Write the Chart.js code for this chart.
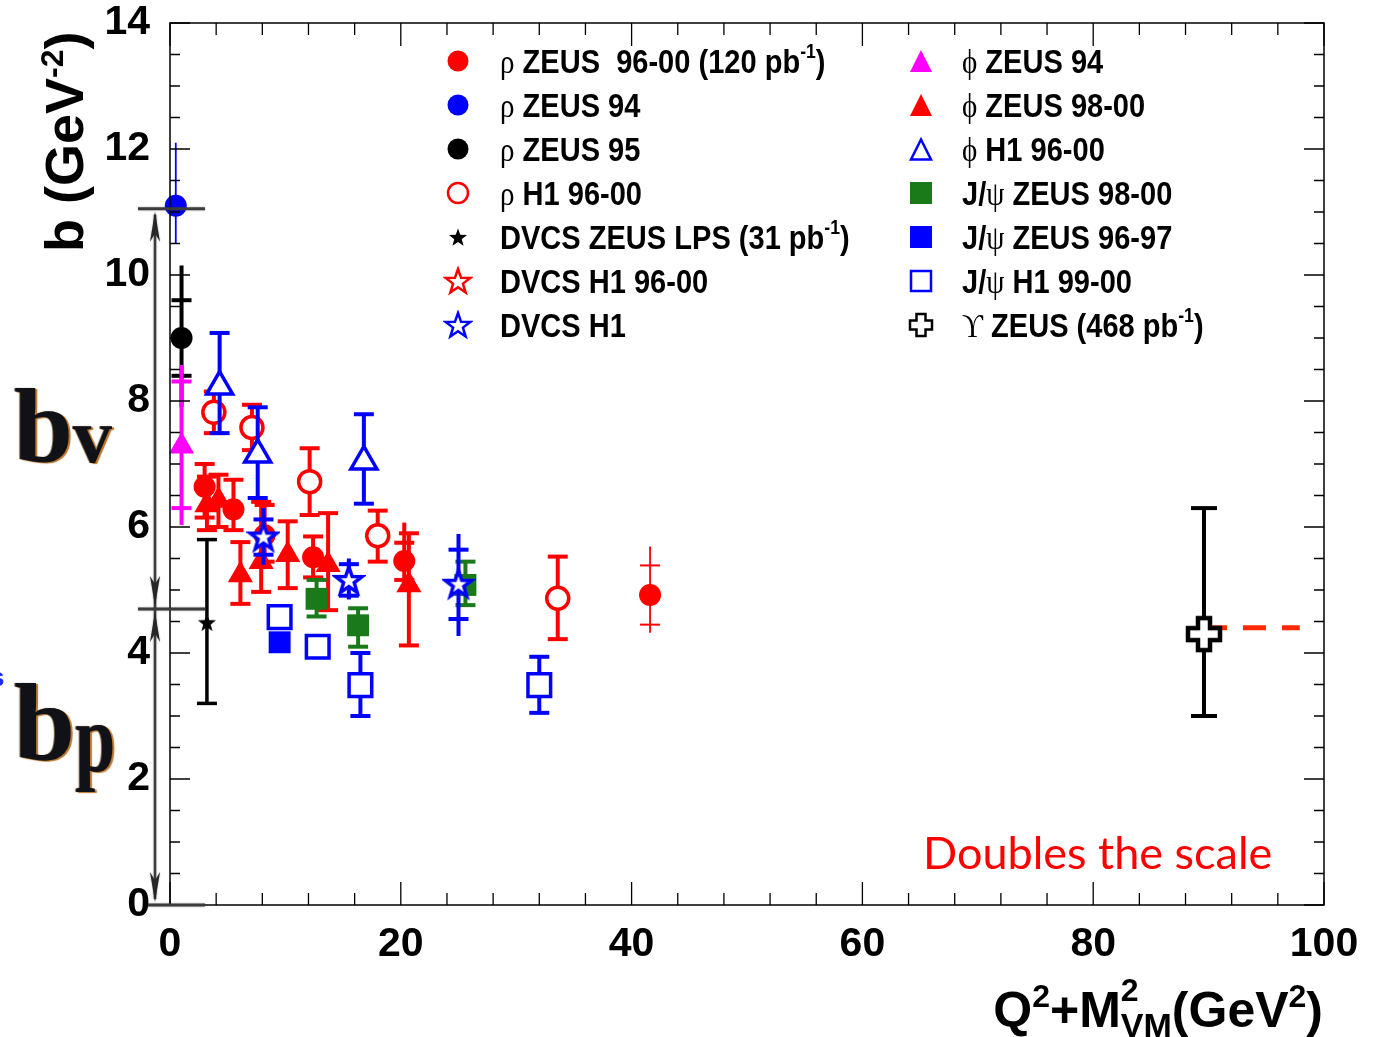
<!DOCTYPE html>
<html>
<head>
<meta charset="utf-8">
<title>Slope b vs Q2+M2</title>
<script src="https://cdn.jsdelivr.net/npm/chart.js@4.4.1/dist/chart.umd.min.js"></script>
<style>
  html, body { margin: 0; padding: 0; background: #fff; }
  #stage { position: relative; width: 1375px; height: 1037px; overflow: hidden; }
  #plot { position: absolute; left: 0; top: 0; }
  .txt { position: absolute; white-space: nowrap; font-family: "Liberation Sans", Arial, sans-serif; font-weight: bold; color: #000; line-height: 1; }
  .leg { font-size: 33px; transform: scaleX(0.88); transform-origin: 0 0; }
  .gk { font-family: "Liberation Serif", "DejaVu Serif", serif; font-weight: normal; }
  .sup { font-size: 20px; position: relative; top: -15px; }
  .mk { position: absolute; }
  .big { position: absolute; font-family: "Liberation Serif", "DejaVu Serif", serif; font-weight: bold; color: #111118; line-height: 1; white-space: nowrap;
         text-shadow: 2px 1px 1px #b8742a, -1px 0 1px #6a5030; }
</style>
</head>
<body>
<div id="stage">
  <canvas id="plot" width="1375" height="1037"></canvas>
  <div id="legend"></div>

  <div class="txt" id="ytitle" style="font-size:54px; left:37px; top:252px; transform-origin:0 0; transform:rotate(-90deg);">b (GeV<span style="font-size:32px; position:relative; top:-20px;">-2</span>)</div>

  <div class="txt" id="xtitle" style="font-size:50px; right:52px; top:985px;">Q<span style="font-size:32px; position:relative; top:-20px;">2</span>+M<span style="font-size:34px; position:relative; top:10px;">VM<span style="position:absolute; left:0; top:-32px; font-size:32px;">2</span></span>(GeV<span style="font-size:32px; position:relative; top:-20px;">2</span>)</div>

  <div class="txt" style="font-family:Lato, 'Open Sans', sans-serif; font-weight:normal; color:#ff0000; font-size:45px; left:923px; top:830px;">Doubles the scale</div>

  <div class="big" style="left:14px; top:374px; font-size:106px;">b<span style="font-size:78px;">v</span></div>
  <div class="big" style="left:14px; top:668px; font-size:110px;">b<span style="font-size:72px; display:inline-block; transform:scaleY(1.35); transform-origin:0 40%;">p</span></div>
  <div class="txt" style="color:#1a2aff; font-size:26px; left:-10px; top:664px;">s</div>
</div>

<script>
// ---- values ----
const xTicks = [0, 20, 40, 60, 80, 100];
const yTicks = [0, 2, 4, 6, 8, 10, 12, 14];

const rhoZeus9600X = [3.0, 5.5, 8.2, 12.4, 20.3, 41.6];
const rhoZeus9600Y = [6.64, 6.28, 5.87, 5.52, 5.46, 4.92];
const rhoZeus9600Lo = [6.15, 5.95, 5.45, 5.2, 5.16, 4.32];
const rhoZeus9600Hi = [7.0, 6.75, 6.35, 5.85, 6.07, 5.69];
const rhoZeus9600CapLo = [6.15, 5.95, 5.45, 5.2, 5.16, 4.45];
const rhoZeus9600CapHi = [7.0, 6.75, 6.35, 5.85, 5.75, 5.39];

const rhoZeus94X = [0.5];
const rhoZeus94Y = [11.1];
const rhoZeus94Lo = [10.5];
const rhoZeus94Hi = [12.1];

const rhoZeus95X = [1.0];
const rhoZeus95Y = [9.0];
const rhoZeus95Lo = [7.9];
const rhoZeus95Hi = [10.15];
const rhoZeus95CapLo = [8.4];
const rhoZeus95CapHi = [9.6];

const rhoH1X = [3.8, 7.1, 12.1, 18.0, 33.6];
const rhoH1Y = [7.82, 7.58, 6.72, 5.86, 4.87];
const rhoH1Lo = [7.49, 7.22, 6.19, 5.45, 4.22];
const rhoH1Hi = [8.15, 7.94, 7.25, 6.26, 5.53];

const dvcsZeusX = [3.2];
const dvcsZeusY = [4.48];
const dvcsZeusLo = [3.2];
const dvcsZeusHi = [5.8];

const dvcsH19600X = [];
const dvcsH19600Y = [];

const dvcsH1X = [8.1, 15.5, 25.0];
const dvcsH1Y = [5.85, 5.16, 5.10];
const dvcsH1Lo = [5.4, 4.85, 4.27];
const dvcsH1Hi = [6.3, 5.5, 5.89];
const dvcsH1CapLo = [5.56, 4.91, 4.54];
const dvcsH1CapHi = [6.12, 5.41, 5.64];

const phiZeus94X = [1.0];
const phiZeus94Y = [7.28];
const phiZeus94Lo = [6.03];
const phiZeus94Hi = [8.57];
const phiZeus94CapLo = [6.30];
const phiZeus94CapHi = [8.31];

const phiZeus9800X = [3.2, 4.2, 6.1, 7.9, 10.2, 13.7, 20.7];
const phiZeus9800Y = [6.35, 6.42, 5.24, 5.45, 5.56, 5.40, 5.08];
const phiZeus9800Lo = [5.95, 6.0, 4.78, 4.97, 5.03, 4.68, 4.12];
const phiZeus9800Hi = [6.8, 6.83, 5.76, 6.4, 6.09, 6.22, 5.9];

const phiH1X = [4.3, 7.6, 16.8];
const phiH1Y = [8.23, 7.15, 7.04];
const phiH1Lo = [7.49, 6.46, 6.37];
const phiH1Hi = [9.08, 7.9, 7.79];

const jpsiZeus9800X = [12.7, 16.3, 25.6];
const jpsiZeus9800Y = [4.86, 4.44, 5.08];
const jpsiZeus9800Lo = [4.58, 4.10, 4.76];
const jpsiZeus9800Hi = [5.16, 4.71, 5.45];

const jpsiZeus9697X = [9.5];
const jpsiZeus9697Y = [4.17];
const jpsiZeus9697Lo = [4.05];
const jpsiZeus9697Hi = [4.3];

const jpsiH1X = [9.5, 12.8, 16.5, 32.0];
const jpsiH1Y = [4.57, 4.10, 3.49, 3.49];
const jpsiH1Lo = [4.42, 3.98, 3.0, 3.05];
const jpsiH1Hi = [4.72, 4.22, 4.0, 3.94];

const upsZeusX = [89.6];
const upsZeusY = [4.30];
const upsZeusLo = [3.0];
const upsZeusHi = [6.30];

const dashX = [89.6, 97.9];
const dashY = [4.40, 4.40];

const bvLevel = 11.05;
const bpLevel = 4.70;

const legendLeft = [
  ['dot', '#ff0000', '<span class="gk">ρ</span> ZEUS&nbsp;&nbsp;96-00 (120 pb<span class="sup">-1</span>)'],
  ['dot', '#0000ff', '<span class="gk">ρ</span> ZEUS 94'],
  ['dot', '#000000', '<span class="gk">ρ</span> ZEUS 95'],
  ['ring', '#ff0000', '<span class="gk">ρ</span> H1 96-00'],
  ['star', '#000000', 'DVCS ZEUS LPS (31 pb<span class="sup">-1</span>)'],
  ['starOpen', '#ff0000', 'DVCS H1 96-00'],
  ['starOpen', '#0000ff', 'DVCS H1']
];
const legendRight = [
  ['tri', '#ff00ff', '<span class="gk">ϕ</span> ZEUS 94'],
  ['tri', '#ff0000', '<span class="gk">ϕ</span> ZEUS 98-00'],
  ['triOpen', '#0000ff', '<span class="gk">ϕ</span> H1 96-00'],
  ['sq', '#1a7a1a', 'J/<span class="gk">ψ</span> ZEUS 98-00'],
  ['sq', '#0000ff', 'J/<span class="gk">ψ</span> ZEUS 96-97'],
  ['sqOpen', '#0000ff', 'J/<span class="gk">ψ</span> H1 99-00'],
  ['plusOpen', '#000000', '<span class="gk">ϒ</span> ZEUS (468 pb<span class="sup">-1</span>)']
];

// ---- helpers ----
function points(xs, ys) {
  return xs.map((x, i) => ({ x, y: ys[i] }));
}

function starPath(cx, cy, R, r) {
  const pts = [];
  for (let k = 0; k < 10; k++) {
    const rad = k % 2 === 0 ? R : r;
    const ang = -Math.PI / 2 + k * Math.PI / 5;
    pts.push([cx + rad * Math.cos(ang), cy + rad * Math.sin(ang)]);
  }
  return pts;
}

function plusPath(cx, cy, a, e) {
  return [[-a, -e], [a, -e], [a, -a], [e, -a], [e, a], [a, a], [a, e], [-a, e], [-a, a], [-e, a], [-e, -a], [-a, -a]]
    .map(([px, py]) => [cx + px, cy + py]);
}

function polyCanvas(size, pts, fill, stroke, lw) {
  const c = document.createElement('canvas');
  c.width = size;
  c.height = size;
  const g = c.getContext('2d');
  g.beginPath();
  pts.forEach(([px, py], i) => (i ? g.lineTo(px, py) : g.moveTo(px, py)));
  g.closePath();
  if (fill) { g.fillStyle = fill; g.fill(); }
  if (stroke) { g.strokeStyle = stroke; g.lineWidth = lw; g.lineJoin = 'miter'; g.stroke(); }
  return c;
}

const blackStar = polyCanvas(22, starPath(11, 11.5, 9.5, 3.9), '#000', null, 0);
const blueStar = polyCanvas(34, starPath(17, 18, 14, 5.6), '#fff', '#0000ff', 3.5);
const redStar = polyCanvas(34, starPath(17, 18, 14, 5.6), '#fff', '#ff0000', 3.5);
const openPlus = polyCanvas(42, plusPath(21, 21, 6, 16), '#fff', '#000', 4.5);

function markerSvg(kind, color) {
  let body = '';
  if (kind === 'dot') body = `<circle cx="15" cy="15" r="10.5" fill="${color}"/>`;
  if (kind === 'ring') body = `<circle cx="15" cy="15" r="10" fill="none" stroke="${color}" stroke-width="2.5"/>`;
  if (kind === 'tri') body = `<polygon points="4,26 26,26 15,4" fill="${color}"/>`;
  if (kind === 'triOpen') body = `<polygon points="5,25.5 25,25.5 15,5.5" fill="none" stroke="${color}" stroke-width="2.5"/>`;
  if (kind === 'sq') body = `<rect x="4" y="4" width="22" height="22" fill="${color}"/>`;
  if (kind === 'sqOpen') body = `<rect x="5" y="5" width="20" height="20" fill="none" stroke="${color}" stroke-width="2.5"/>`;
  if (kind === 'star') body = `<polygon points="${starPath(15, 16, 9.5, 3.9).map(p => p.join(',')).join(' ')}" fill="${color}"/>`;
  if (kind === 'starOpen') body = `<polygon points="${starPath(15, 16, 13, 5.2).map(p => p.join(',')).join(' ')}" fill="none" stroke="${color}" stroke-width="2.5"/>`;
  if (kind === 'plusOpen') body = `<polygon points="${plusPath(15, 15, 4.5, 11).map(p => p.join(',')).join(' ')}" fill="none" stroke="${color}" stroke-width="2.5"/>`;
  return `<svg width="30" height="30" viewBox="0 0 30 30">${body}</svg>`;
}

function buildLegend() {
  const box = document.getElementById('legend');
  const baselines = [73, 117, 161, 205, 249, 293, 337];
  const cols = [[legendLeft, 458, 500], [legendRight, 921, 962]];
  let html = '';
  cols.forEach(([rows, mx, tx]) => {
    rows.forEach(([kind, color, label], i) => {
      const b = baselines[i];
      html += `<div class="mk" style="left:${mx - 15}px; top:${b - 27}px;">${markerSvg(kind, color)}</div>`;
      html += `<div class="txt leg" style="left:${tx}px; top:${b - 28}px;">${label}</div>`;
    });
  });
  box.innerHTML = html;
}

// error bars drawn through the chart's own y scale, just before each dataset's markers
const errorBarPlugin = {
  id: 'errorBars',
  beforeDatasetDraw(chart, args) {
    const ds = chart.data.datasets[args.index];
    if (!ds.errLo) return;
    const y = chart.scales.y;
    const ctx = chart.ctx;
    ctx.save();
    ctx.strokeStyle = ds.errColor;
    ctx.lineCap = 'butt';
    args.meta.data.forEach((pt, i) => {
      const lw = Array.isArray(ds.errWidth) ? ds.errWidth[i] : ds.errWidth;
      const half = ds.capHalf || 0;
      ctx.lineWidth = lw;
      ctx.beginPath();
      ctx.moveTo(pt.x, y.getPixelForValue(ds.errLo[i]));
      ctx.lineTo(pt.x, y.getPixelForValue(ds.errHi[i]));
      ctx.stroke();
      if (half > 0) {
        const caps = [(ds.capLo || ds.errLo)[i], (ds.capHi || ds.errHi)[i]];
        ctx.lineWidth = Math.max(lw, 2);
        caps.forEach((c) => {
          const cy = y.getPixelForValue(c);
          ctx.beginPath();
          ctx.moveTo(pt.x - half, cy);
          ctx.lineTo(pt.x + half, cy);
          ctx.stroke();
        });
      }
    });
    ctx.restore();
  }
};

// ROOT-like frame with inward ticks on all four sides
const framePlugin = {
  id: 'rootFrame',
  afterDatasetsDraw(chart) {
    const { ctx, chartArea: a, scales: { x, y } } = chart;
    ctx.save();
    ctx.strokeStyle = '#000';
    ctx.lineWidth = 1.5;
    ctx.strokeRect(a.left, a.top, a.right - a.left, a.bottom - a.top);
    ctx.lineWidth = 1.3;
    for (let i = 0; i <= 25; i++) {
      const px = x.getPixelForValue(i * 4);
      const len = i % 5 === 0 ? 23 : 12;
      ctx.beginPath();
      ctx.moveTo(px, a.bottom); ctx.lineTo(px, a.bottom - len);
      ctx.moveTo(px, a.top); ctx.lineTo(px, a.top + len);
      ctx.stroke();
    }
    for (let i = 0; i <= 28; i++) {
      const py = y.getPixelForValue(i * 0.5);
      const len = i % 4 === 0 ? 20 : 10;
      ctx.beginPath();
      ctx.moveTo(a.left, py); ctx.lineTo(a.left + len, py);
      ctx.moveTo(a.right, py); ctx.lineTo(a.right - len, py);
      ctx.stroke();
    }
    ctx.restore();
  }
};

function arrowHead(ctx, x, tipY, dir) {
  const len = 30, half = 5;
  ctx.beginPath();
  ctx.moveTo(x, tipY);
  ctx.lineTo(x - half, tipY - dir * len);
  ctx.lineTo(x, tipY - dir * len * 0.72);
  ctx.lineTo(x + half, tipY - dir * len);
  ctx.closePath();
  ctx.fill();
}

// the b_v / b_p bracket drawn on the left of the frame
const bracketPlugin = {
  id: 'bracket',
  afterDraw(chart) {
    const { ctx, chartArea: a, scales: { y } } = chart;
    const yv = y.getPixelForValue(bvLevel);
    const yp = y.getPixelForValue(bpLevel);
    const y0 = y.getPixelForValue(0);
    const ax = a.left - 15;
    ctx.save();
    ctx.strokeStyle = '#3c3c3c';
    ctx.fillStyle = '#262626';
    ctx.shadowColor = 'rgba(0,0,0,0.35)';
    ctx.shadowBlur = 2;
    ctx.lineWidth = 3;
    [[yv, a.left - 32], [yp, a.left - 32], [y0, a.left - 22]].forEach(([py, x0]) => {
      ctx.beginPath();
      ctx.moveTo(x0, py);
      ctx.lineTo(a.left + 35, py);
      ctx.stroke();
    });
    ctx.lineWidth = 2.5;
    ctx.beginPath();
    ctx.moveTo(ax, yv + 6);
    ctx.lineTo(ax, y0 - 6);
    ctx.stroke();
    arrowHead(ctx, ax, yv + 3, -1);
    arrowHead(ctx, ax, yp - 3, 1);
    arrowHead(ctx, ax, yp + 3, -1);
    arrowHead(ctx, ax, y0 - 3, 1);
    ctx.restore();
  }
};

const series = [
  {
    label: 'rho ZEUS 96-00', data: points(rhoZeus9600X, rhoZeus9600Y),
    errLo: rhoZeus9600Lo, errHi: rhoZeus9600Hi, capLo: rhoZeus9600CapLo, capHi: rhoZeus9600CapHi,
    errWidth: [4, 4, 4, 4, 4, 1.8], errColor: '#ff0000', capHalf: 10,
    pointStyle: 'circle', pointRadius: 11, pointBackgroundColor: '#ff0000', pointBorderWidth: 0
  },
  {
    label: 'phi ZEUS 98-00', data: points(phiZeus9800X, phiZeus9800Y),
    errLo: phiZeus9800Lo, errHi: phiZeus9800Hi, errWidth: 4, errColor: '#ff0000', capHalf: 10,
    pointStyle: 'triangle', pointRadius: 14.5, pointBackgroundColor: '#ff0000', pointBorderWidth: 0
  },
  {
    label: 'rho H1 96-00', data: points(rhoH1X, rhoH1Y),
    errLo: rhoH1Lo, errHi: rhoH1Hi, errWidth: 4, errColor: '#ff0000', capHalf: 10,
    pointStyle: 'circle', pointRadius: 11, pointBackgroundColor: '#fff', pointBorderColor: '#ff0000', pointBorderWidth: 3.5
  },
  {
    label: 'rho ZEUS 95', data: points(rhoZeus95X, rhoZeus95Y),
    errLo: rhoZeus95Lo, errHi: rhoZeus95Hi, capLo: rhoZeus95CapLo, capHi: rhoZeus95CapHi,
    errWidth: 4, errColor: '#000', capHalf: 10,
    pointStyle: 'circle', pointRadius: 11, pointBackgroundColor: '#000', pointBorderWidth: 0
  },
  {
    label: 'phi ZEUS 94', data: points(phiZeus94X, phiZeus94Y),
    errLo: phiZeus94Lo, errHi: phiZeus94Hi, capLo: phiZeus94CapLo, capHi: phiZeus94CapHi,
    errWidth: 4, errColor: '#ff00ff', capHalf: 10,
    pointStyle: 'triangle', pointRadius: 14.5, pointBackgroundColor: '#ff00ff', pointBorderWidth: 0
  },
  {
    label: 'rho ZEUS 94', data: points(rhoZeus94X, rhoZeus94Y),
    errLo: rhoZeus94Lo, errHi: rhoZeus94Hi, errWidth: 1.8, errColor: '#0000ff', capHalf: 0,
    pointStyle: 'circle', pointRadius: 11, pointBackgroundColor: '#0000ff', pointBorderWidth: 0
  },
  {
    label: 'phi H1 96-00', data: points(phiH1X, phiH1Y),
    errLo: phiH1Lo, errHi: phiH1Hi, errWidth: 4, errColor: '#0000ff', capHalf: 10,
    pointStyle: 'triangle', pointRadius: 15, pointBackgroundColor: '#fff', pointBorderColor: '#0000ff', pointBorderWidth: 3.5
  },
  {
    label: 'J/psi ZEUS 98-00', data: points(jpsiZeus9800X, jpsiZeus9800Y),
    errLo: jpsiZeus9800Lo, errHi: jpsiZeus9800Hi, errWidth: 4, errColor: '#1a7a1a', capHalf: 10,
    pointStyle: 'rect', pointRadius: 15.5, pointBackgroundColor: '#1a7a1a', pointBorderWidth: 0
  },
  {
    label: 'J/psi ZEUS 96-97', data: points(jpsiZeus9697X, jpsiZeus9697Y),
    errLo: jpsiZeus9697Lo, errHi: jpsiZeus9697Hi, errWidth: 4, errColor: '#0000ff', capHalf: 10,
    pointStyle: 'rect', pointRadius: 15.5, pointBackgroundColor: '#0000ff', pointBorderWidth: 0
  },
  {
    label: 'J/psi H1 99-00', data: points(jpsiH1X, jpsiH1Y),
    errLo: jpsiH1Lo, errHi: jpsiH1Hi, errWidth: 4, errColor: '#0000ff', capHalf: 10,
    pointStyle: 'rect', pointRadius: 16, pointBackgroundColor: '#fff', pointBorderColor: '#0000ff', pointBorderWidth: 3.5
  },
  {
    label: 'DVCS ZEUS LPS', data: points(dvcsZeusX, dvcsZeusY),
    errLo: dvcsZeusLo, errHi: dvcsZeusHi, errWidth: 3.5, errColor: '#000', capHalf: 10,
    pointStyle: blackStar
  },
  {
    label: 'DVCS H1 96-00', data: points(dvcsH19600X, dvcsH19600Y),
    pointStyle: redStar
  },
  {
    label: 'DVCS H1', data: points(dvcsH1X, dvcsH1Y),
    errLo: dvcsH1Lo, errHi: dvcsH1Hi, capLo: dvcsH1CapLo, capHi: dvcsH1CapHi,
    errWidth: 4, errColor: '#0000ff', capHalf: 10,
    pointStyle: blueStar
  },
  {
    label: 'Upsilon line', data: points(dashX, dashY), showLine: true,
    borderColor: '#ff2a00', borderWidth: 5, borderDash: [23, 16], pointRadius: 0
  },
  {
    label: 'Upsilon ZEUS', data: points(upsZeusX, upsZeusY),
    errLo: upsZeusLo, errHi: upsZeusHi, errWidth: 4, errColor: '#000', capHalf: 13,
    pointStyle: openPlus
  }
];

series.forEach((ds, i) => {
  ds.order = series.length - i;
  ds.clip = false;
});

buildLegend();

new Chart(document.getElementById('plot'), {
  type: 'scatter',
  data: { datasets: series },
  options: {
    responsive: false,
    animation: false,
    events: [],
    layout: { padding: { top: 23, right: 51, left: 0, bottom: 0 } },
    plugins: { legend: { display: false }, tooltip: { enabled: false } },
    scales: {
      x: {
        type: 'linear', min: xTicks[0], max: xTicks[xTicks.length - 1],
        afterFit: (s) => { s.height = 132; s.paddingLeft = 0; s.paddingRight = 0; },
        afterBuildTicks: (s) => { s.ticks = xTicks.map((v) => ({ value: v })); },
        grid: { display: false, drawTicks: false },
        border: { display: false },
        ticks: { color: '#000', padding: 15, font: { family: 'Liberation Sans', weight: 'bold', size: 41 } }
      },
      y: {
        type: 'linear', min: yTicks[0], max: yTicks[yTicks.length - 1],
        afterFit: (s) => { s.width = 170; s.paddingTop = 0; s.paddingBottom = 0; },
        afterBuildTicks: (s) => { s.ticks = yTicks.map((v) => ({ value: v })); },
        grid: { display: false, drawTicks: false },
        border: { display: false },
        ticks: { color: '#000', padding: 20, font: { family: 'Liberation Sans', weight: 'bold', size: 41 } }
      }
    }
  },
  plugins: [errorBarPlugin, framePlugin, bracketPlugin]
});
</script>
</body>
</html>
